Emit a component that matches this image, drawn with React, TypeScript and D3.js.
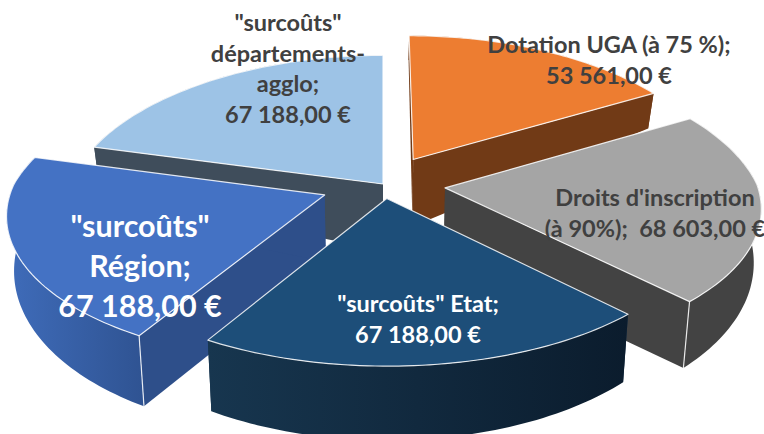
import React from "react";
import * as d3 from "d3";

const categories = ["Dotation UGA (à 75 %)", "Droits d'inscription (à 90%)", "\"surcoûts\" Etat", "\"surcoûts\" Région", "\"surcoûts\" départements-agglo"];
const values = [53561, 68603, 67188, 67188, 67188];
const explosions = [0.2, 0.2, 0.1, 0.2, 0.0];
const topColors = ["#ED7D31", "#A5A5A5", "#1D4E79", "#4472C4", "#9DC3E6"];
const wallColors = ["#713A16", "#434343", "#16344F", "#2E4F8A", "#3F4D5B"];
const rimFrom = ["#713A16", "#434343", "#17364F", "#3F6CBA", "#3F4D5B"];
const rimTo = ["#713A16", "#434343", "#0B1C2D", "#2F5392", "#3F4D5B"];
const paintOrder = [4, 0, 1, 3, 2];

const labelLines = [
  ["Dotation UGA (à 75 %);"],
  ["Droits d'inscription", "(à 90%);  "],
  ["\"surcoûts\" Etat;"],
  ["\"surcoûts\"", "Région;"],
  ["\"surcoûts\"", "départements-", "agglo;"],
];
const labelX = [609, 655, 418, 140, 288];
const labelY = [53, 206, 312, 237, 31];
const labelStep = [31, 31, 31, 40, 30.5];
const labelSize = [23.5, 23.5, 23.5, 30.5, 23.5];
const labelColor = ["#404040", "#404040", "#FFFFFF", "#FFFFFF", "#404040"];

const W = 764, H = 434;
const cx = 383, cy = 184, A = 312, B = 144, pxBack = 0.16, pxFront = 0.12, py = 0.119;

const loc = d3.formatLocale({ decimal: ",", thousands: " ", grouping: [3], currency: ["", " €"] });
const fmt = loc.format("$,.2f");

type P = [number, number];
const proj = (u: number, v: number): P => [cx + (A * u) / (1 + (v > 0 ? pxBack : pxFront) * v), cy - (B * v) / (1 + py * v)];
const lower = (p: P, depth: number): P => [cx + (p[0] - cx) * 0.98, p[1] + depth];
const rimDepth = (v: number) => 50 - 22 * v;
const apexDepth = 67;
const line = d3.line<P>().x((d) => d[0]).y((d) => d[1]);
const closed = (pts: P[]) => line(pts) + "Z";

const arcs = d3.pie<number>().sort(null).startAngle(0).endAngle(2 * Math.PI)(values);

function slice(i: number) {
  const a = arcs[i];
  const mid = (a.startAngle + a.endAngle) / 2;
  const ou = Math.sin(mid) * explosions[i];
  const ov = Math.cos(mid) * explosions[i];
  const angles = d3.range(0, 61).map((k) => a.startAngle + ((a.endAngle - a.startAngle) * k) / 60);
  const rimUV = angles.map((t) => [ou + Math.sin(t), ov + Math.cos(t)]);
  const rimTop = rimUV.map(([u, v]) => proj(u, v));
  const rimBottom = rimUV.map(([u, v], k) => lower(rimTop[k], rimDepth(v)));
  const apex = proj(ou, ov);
  const apexB = lower(apex, apexDepth);
  return {
    top: closed([apex, ...rimTop]),
    rim: closed([...rimTop, ...rimBottom.slice().reverse()]),
    startFace: closed([apex, rimTop[0], rimBottom[0], apexB]),
    endFace: closed([apex, rimTop[60], rimBottom[60], apexB]),
    edgeStart: line([rimTop[0], rimBottom[0]]),
    edgeEnd: line([rimTop[60], rimBottom[60]]),
  };
}

export default function App() {
  return (
    <svg width={W} height={H} viewBox={`0 0 ${W} ${H}`} style={{ position: "absolute", left: 0, top: 0, background: "#fff" }}>
      <defs>
        {values.map((_, i) => (
          <linearGradient key={i} id={`rim${i}`} x1="0" x2="1" y1="0" y2="0">
            <stop offset="0" stopColor={rimFrom[i]} />
            <stop offset="1" stopColor={rimTo[i]} />
          </linearGradient>
        ))}
      </defs>
      {paintOrder.map((i) => {
        const s = slice(i);
        return (
          <g key={i} aria-label={categories[i]}>
            <path d={s.startFace} fill={wallColors[i]} />
            <path d={s.endFace} fill={wallColors[i]} />
            <path d={s.rim} fill={`url(#rim${i})`} />
            <path d={s.top} fill={topColors[i]} stroke="#fff" strokeOpacity={0.85} strokeWidth={1.2} strokeLinejoin="round" />
            {(i === 1 || i === 3) && (
              <path d={(i === 1 ? s.edgeEnd : s.edgeStart) as string} stroke="#fff" strokeOpacity={0.85} strokeWidth={1.2} fill="none" />
            )}
          </g>
        );
      })}
      {values.map((v, i) => {
        const lines = labelLines[i];
        const inline = lines[lines.length - 1].endsWith("  ");
        const rows = inline
          ? [...lines.slice(0, -1), lines[lines.length - 1] + fmt(v)]
          : [...lines, fmt(v)];
        return (
          <text key={i} textAnchor="middle" fontFamily="Lato, sans-serif" fontWeight={700} fontSize={labelSize[i]} fill={labelColor[i]} xmlSpace="preserve">
            {rows.map((r, k) => (
              <tspan key={k} x={labelX[i]} y={labelY[i] + k * labelStep[i]}>{r}</tspan>
            ))}
          </text>
        );
      })}
    </svg>
  );
}
